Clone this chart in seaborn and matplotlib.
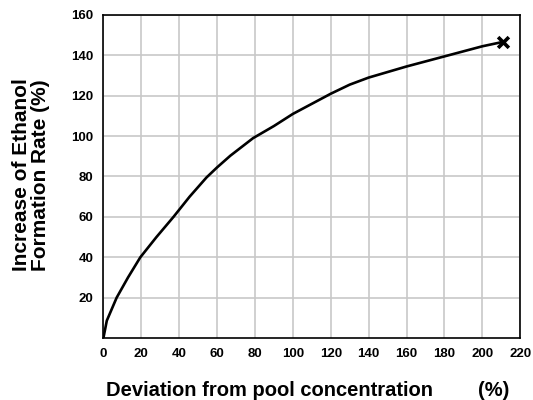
import matplotlib
matplotlib.use("Agg")
import matplotlib.pyplot as plt
import seaborn as sns
import pandas as pd
from matplotlib.ticker import MultipleLocator

sns.set_style("white")
plt.rcParams['font.family'] = ['Liberation Sans', 'DejaVu Sans']
plt.rcParams['text.color'] = 'black'
plt.rcParams['axes.labelcolor'] = 'black'
plt.rcParams['xtick.color'] = 'black'
plt.rcParams['ytick.color'] = 'black'

deviation = [0, 1.8, 7, 13, 19.5, 28, 37, 45.5, 54.4, 60, 67, 79, 90, 100,
             110, 120, 130, 140, 160, 180, 200, 211]
increase = [0, 8.6, 20, 30, 40, 50, 60, 70, 79.5, 84.5, 90.3, 99, 105, 111,
            116, 121, 125.5, 129, 134.5, 139.5, 144.5, 146.7]

df = pd.DataFrame({"x": deviation, "y": increase})

fig = plt.figure(figsize=(5.33, 4.0), dpi=100)
ax = fig.add_axes([0.194, 0.155, 0.782, 0.8075])

ax.grid(True, color="#c8c8c8", linewidth=1.2, zorder=0)
sns.lineplot(data=df, x="x", y="y", ax=ax, color="black", linewidth=1.9,
             sort=False, estimator=None, zorder=3)
ax.scatter([deviation[-1]], [increase[-1]], marker="x", s=60, color="black",
           linewidths=2.6, zorder=4)

ax.set_xlim(0, 220)
ax.set_ylim(0, 160)
ax.xaxis.set_major_locator(MultipleLocator(20))
ax.xaxis.set_minor_locator(MultipleLocator(4))
ax.set_yticks([20, 40, 60, 80, 100, 120, 140, 160])
ax.yaxis.set_minor_locator(MultipleLocator(4))

ax.tick_params(axis="both", which="major", direction="out", length=4, width=1,
               labelsize=9.5, color="black", labelcolor="black", pad=3)
ax.tick_params(axis="both", which="minor", direction="in", length=3, width=0.8,
               color="black")
for lab in ax.get_xticklabels() + ax.get_yticklabels():
    lab.set_fontweight("bold")

for s in ax.spines.values():
    s.set_color("black")
    s.set_linewidth(1.2)

ax.set_xlabel("Deviation from pool concentration        (%)", fontsize=14.5,
              fontweight="bold", color="black")
ax.xaxis.set_label_coords(0.49, -0.132)
ax.set_ylabel("Increase of Ethanol\nFormation Rate (%)", fontsize=15,
              fontweight="bold", color="black", linespacing=1.0)
ax.yaxis.set_label_coords(-0.128, 0.505)

fig.savefig("out.png", dpi=100)
